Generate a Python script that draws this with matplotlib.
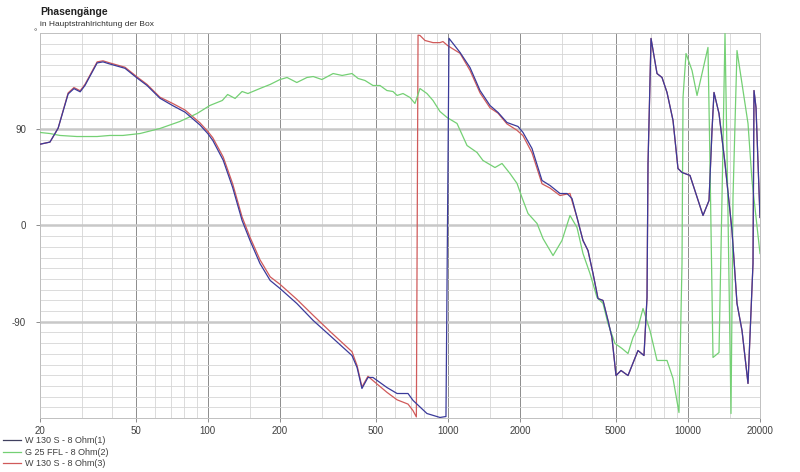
import matplotlib
matplotlib.use("Agg")
import matplotlib.pyplot as plt
from matplotlib.ticker import FixedLocator, NullFormatter
from matplotlib.lines import Line2D

plt.rcParams['font.family'] = ['Liberation Sans', 'DejaVu Sans']

# W 130 S - 8 Ohm(1): frequency (Hz) / phase (deg)
blue_freq = [20, 22, 23.8, 26.2, 27.7, 29.4, 30.8, 34.6, 36.6, 39.1, 45.2, 50.7, 55.8,
             63.2, 71.6, 80.4, 92.8, 100, 105, 116, 127, 139, 150, 165, 182, 200, 235,
             275, 323, 399, 419, 439, 465, 488, 558, 615, 683, 717, 819, 928, 983,
             1012, 1125, 1238, 1363, 1500, 1620, 1765, 1962, 2058, 2244, 2470, 2668,
             2936, 3140, 3294,
             3456, 3660, 3840, 4030, 4227, 4435, 4652, 4832, 5024, 5272, 5637, 6204,
             6571, 6765, 6830, 7030, 7446, 7812, 8195, 8682, 9105, 9464, 10217, 11576,
             12264, 12619, 12864, 13496, 14296, 15286, 16040, 16828, 17826, 18702,
             18882, 19248, 20000]
blue_phase = [76, 78, 91, 123, 128, 125, 131, 152, 153, 151, 147, 138, 131,
              119, 112, 106, 94, 86, 79.5, 61, 35.5, 4.7, -14, -35.5, -51.4, -58.9, -72.9,
              -88.8, -102.9, -121.6, -132.8, -152.4, -142.1, -142.1, -151.5, -157.1, -157.1, -163.6, -175.8, -179.5, -178.6,
              175, 161.8, 147.7, 126.2, 112.2, 105.7, 96.3, 92.6, 87, 72, 42.1, 37.4,
              29.9, 29.9, 25.2,
              7.5, -14, -23.4, -44.9, -68.3, -70.1, -88.8, -104.7, -140.3, -135.6, -140.3, -116.9,
              -121.6, -67.3, 58, 174.9, 142.1, 138.4, 124.4, 98.2, 53.3, 49.6, 46.8, 9.4,
              23.4, 88.8, 124.4, 104.7, 58, -4.7, -72.9, -98.2, -147.7, -35.5,
              126.2, 110.3, 7.5]

# G 25 FFL - 8 Ohm(2)
green_freq = [20, 22, 24.2, 28.5, 34.6, 39.1, 44.3, 52.2, 63.2, 76.6, 90.2, 102, 107, 115,
              121, 130, 139, 147, 165, 182, 200, 214, 235, 259, 275, 299, 333, 363, 399,
              423, 452, 488, 522, 558, 591, 615, 651, 696, 730, 766, 819, 868, 928, 993,
              1093, 1203, 1324, 1402, 1573, 1683, 1817, 1944, 2038, 2160, 2355, 2494,
              2746, 2992, 3231, 3456, 3660, 3914, 4188, 4435, 4652, 4976, 5322, 5637,
              5914, 6204, 6510, 6960, 7446, 8195, 8682, 9192, 9464, 9556, 9835, 10420,
              10932, 12140, 12380, 12740, 13496, 13890, 14296, 14712, 15142, 15436,
              16040, 17826, 18520, 20000]
green_phase = [87, 86, 84.2, 83.2, 83.2, 84.2, 84.2, 86, 90.7, 97.3, 104.7, 112.2, 114.1, 116.9,
               122.5, 118.8, 125.3, 123.4, 128.1, 131.9, 136.5, 138.4, 133.7, 138.4, 139.3, 136.5, 142.1, 140.3, 142.1,
               137.5, 135.6, 130.9, 130.9, 126.2, 125.3, 121.6, 123.4, 119.7, 114.1, 128.1, 123.4, 116.9, 106.6, 101,
               95.4, 74.8, 68.3, 60.8, 54.2, 58, 48.6, 39.3, 26.2, 11.2, 1.9, -12.2,
               -28.1, -14, 9.4, -1.9, -26.2, -44.9, -67.3, -72.9, -91.6, -110.3, -115, -119.7,
               -104.7, -95.4, -77.6, -98.2, -126.2, -126.2, -143, -174.9, -35.5, 119.7, 160.8, 144.9,
               121.6, 166.5, 58, -123.4, -118.8, 26.2, 179.5, 11.2, -175.8, 26.2,
               163.6, 95.4, 42.1, -26.2]

# W 130 S - 8 Ohm(3): own values up to ~3.3 kHz, identical to (1) above
red_freq_low = [20, 22, 23.8, 26.2, 27.7, 29.4, 30.8, 34.6, 36.6, 39.1, 45.2, 50.7, 55.8,
                63.2, 71.6, 80.4, 92.8, 100, 105, 116, 127, 139, 150, 165, 182, 200, 235,
                275, 323, 399, 419, 439, 465, 488, 558, 615, 683, 716, 740,
                752, 766, 804, 868, 928, 955, 1002, 1125, 1238, 1363, 1500, 1620, 1765,
                1944, 2058, 2244, 2470, 2668, 2936, 3231, 3294]
red_phase_low = [76, 78, 91, 124, 129, 126, 132, 153, 154, 152, 148, 139, 132,
                 120, 114, 108, 96, 88, 82, 64, 39, 8, -11, -32, -48, -55, -69,
                 -84, -99, -118, -131, -151, -141, -145, -156, -163, -167, -173, -179,
                 178, 177.7, 173, 171, 171, 172, 168, 161, 145, 124, 110, 105, 95,
                 89, 84, 68, 39, 35, 28, 30, 23]
red_freq = red_freq_low + blue_freq[56:]
red_phase = red_phase_low + blue_phase[56:]

labels = ["W 130 S - 8 Ohm(1)", "G 25 FFL - 8 Ohm(2)", "W 130 S - 8 Ohm(3)"]
colors = ["#3a3a9a", "#74d074", "#d05a5a"]

major_x = [20, 50, 100, 200, 500, 1000, 2000, 5000, 10000, 20000]
minor_x = [30, 40, 60, 70, 80, 90, 150, 300, 400, 600, 700, 800, 900, 1500,
           3000, 4000, 6000, 7000, 8000, 9000, 15000]

fig = plt.figure(figsize=(8, 4.72), dpi=100)
ax = fig.add_axes([0.05, 1 - 418 / 472, 0.90, 385 / 472])

ax.plot(red_freq, red_phase, color=colors[2], lw=0.9, zorder=3)
ax.plot(green_freq, green_phase, color=colors[1], lw=0.9, zorder=4)
ax.plot(blue_freq, blue_phase, color=colors[0], lw=0.9, zorder=5)

ax.set_xscale('log')
ax.set_xlim(20, 20000)
ax.set_ylim(-180, 180)
ax.xaxis.set_major_locator(FixedLocator(major_x))
ax.xaxis.set_minor_locator(FixedLocator(minor_x))
ax.xaxis.set_minor_formatter(NullFormatter())
ax.set_xticklabels([str(v) for v in major_x])
ax.set_yticks([-90, 0, 90])
ax.set_yticklabels(["-90", "0", "90"])
ax.yaxis.set_minor_locator(FixedLocator(range(-170, 180, 10)))

ax.grid(which='minor', axis='both', color='#d6d6d6', lw=0.6, zorder=0)
ax.grid(which='major', axis='x', color='#8c8c8c', lw=0.7, zorder=1)
ax.grid(which='major', axis='y', color='#c8c8c8', lw=1.8, zorder=1)
ax.axhline(0, color='#8c8c8c', lw=0.7, zorder=1)

ax.tick_params(axis='both', which='major', labelsize=7, labelcolor='#404040',
               color='#8c8c8c', length=3, width=0.7, pad=3)
ax.tick_params(axis='y', which='major', pad=7)
ax.tick_params(axis='both', which='minor', length=0)
for s in ax.spines.values():
    s.set_color('#c0c0c0')
    s.set_linewidth(0.7)

ax.text(-0.004, 1.0, "°", transform=ax.transAxes, ha='right', va='center',
        fontsize=6, color='#404040')

fig.text(40 / 800, 1 - 12 / 472, "Phasengänge", fontsize=7.5, fontweight='bold',
         ha='left', va='center', color='#202020')
fig.text(40 / 800, 1 - 24 / 472, "in Hauptstrahlrichtung der Box", fontsize=6,
         ha='left', va='center', color='#303030')

handles = [Line2D([0], [0], color=c, lw=0.9) for c in colors]
handles[0] = Line2D([0], [0], color='#404060', lw=0.9)
fig.legend(handles, labels, loc='upper left', bbox_to_anchor=(0.004, 1 - 436 / 472),
           frameon=False, fontsize=6.5, handlelength=2.0, handletextpad=0.4,
           labelspacing=0.3, borderpad=0, borderaxespad=0, labelcolor='#404040')

fig.savefig("out.png", dpi=100)
